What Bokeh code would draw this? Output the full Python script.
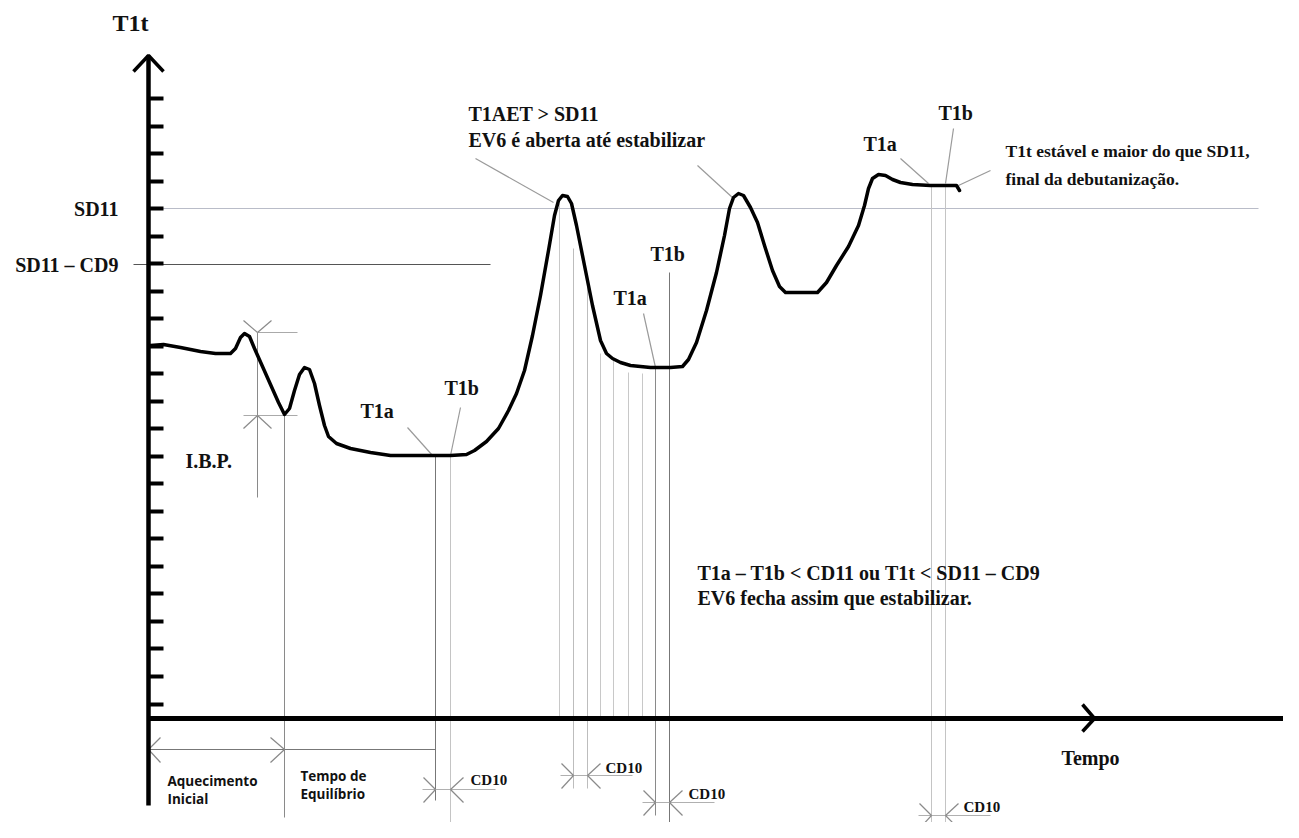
from bokeh.plotting import figure
from bokeh.models import Range1d, ColumnDataSource
from bokeh.core.properties import value
from bokeh.embed import file_html
from bokeh.resources import INLINE

# ---------------- data (time units / temperature units) ----------------
curve_time = [2, 15, 32, 52, 67, 82, 87, 92, 96, 101, 106, 114, 122, 130, 136, 141, 146, 151, 156, 161,
              166, 171, 176, 180, 188, 202, 222, 242, 272, 302, 318, 326, 338, 350, 360, 368, 376, 384,
              392, 400, 406, 410, 414, 419, 423, 428, 436, 444, 452, 458, 464, 472, 482, 502, 522, 534,
              540, 548, 558, 568, 576, 581, 585, 590, 595, 602, 609, 616, 624, 631, 637, 652, 669, 678,
              688, 700, 710, 716, 720, 724, 730, 737, 744, 752, 764, 782, 797, 808, 811]
curve_temp = [373, 374, 371, 367, 365, 365, 370, 381, 385, 382, 370, 352, 334, 316, 304, 310, 328, 344, 351, 349,
              335, 313, 293, 282, 275, 270, 266, 263, 263, 263, 264, 268, 277, 290, 308, 325, 348, 383,
              423, 468, 503, 518, 523, 522, 515, 493, 453, 413, 378, 365, 360, 356, 353, 351, 351, 352,
              359, 376, 408, 446, 483, 510, 521, 525, 523, 511, 496, 473, 448, 432, 426, 426, 426, 436,
              453, 472, 493, 513, 530, 540, 544, 543, 539, 536, 534, 533, 533, 533, 528]

tick_levels = [620, 592, 565, 537, 510, 482, 455, 427, 400, 372, 345, 317, 290, 262, 235, 207,
               180, 152, 125, 97, 70, 42, 14]
sd11_level = 510
sd11_cd9_level = 454
axis_time_end = 1142
axis_temp_top = 663
axis_temp_bottom = -87

# guide (thin vertical) lines: time, top, bottom, colour
guide_time = [109, 136, 287, 302, 411, 425, 439, 452, 465, 480, 494, 507, 521, 783, 797]
guide_top = [386, 303, 263, 263, 515, 470, 441, 365, 358, 346, 345, 351, 446, 533, 533]
guide_bottom = [221, -99, -82, -125, 0, -70, -70, 0, 0, 0, 0, -97, -125, -107, -112]
guide_color = ["#8a8a8a", "#8a8a8a", "#777777", "#c4c4c4", "#c8c8c8", "#bdbdbd", "#bdbdbd", "#c8c8c8",
               "#c8c8c8", "#c8c8c8", "#c8c8c8", "#8a8a8a", "#777777", "#c4c4c4", "#c4c4c4"]

# CD10 dimension markers: left time, right time, level
cd10_left = [287, 425, 507, 783]
cd10_right = [302, 439, 521, 797]
cd10_level = [-71, -57, -84, -97]

# leader lines
leader_x0 = [259, 312, 327, 549, 495, 752, 805, 842]
leader_y0 = [291, 311, 560, 553, 405, 560, 590, 548]
leader_x1 = [284, 302, 405, 585, 507, 780, 797, 810]
leader_y1 = [263, 263, 516, 520, 351, 535, 535, 533]

# IBP marker
ibp_time = 109
ibp_top = 386
ibp_bottom = 303
ibp_line_end = 149
ibp_low_start = 95

# heating / equilibrium dimension
heat_level = -31
heat_end = 136
equil_end = 287

# serif labels: text, x, y, size, align
lab_text = ["T1t", "SD11", "SD11 \u2013 CD9", "I.B.P.", "T1a", "T1b",
            "T1AET > SD11", "EV6 \u00e9 aberta at\u00e9 estabilizar", "T1a", "T1b", "T1a", "T1b",
            "T1a \u2013 T1b < CD11 ou T1t < SD11 \u2013 CD9", "EV6 fecha assim que estabilizar.", "Tempo"]
lab_x = [-18, -30, -30, 37, 212, 296, 320, 320, 465, 502, 715, 790, 549, 549, 942]
lab_y = [696, 510, 454, 258, 308, 331, 605, 579, 421, 465, 575, 606, 146, 121, -39]
lab_size = ["24px", "20px", "20px", "20px", "20px", "20px", "20px", "20px", "20px", "20px", "20px",
            "20px", "20px", "20px", "20px"]
lab_align = ["center", "right", "right", "left", "left", "left", "left", "left", "left", "left",
             "left", "left", "left", "left", "center"]

end_text = ["T1t est\u00e1vel e maior do que SD11,", "final da debutaniza\u00e7\u00e3o."]
end_x = [857, 857]
end_y = [568, 540]

sans_text = ["Aquecimento", "Inicial", "Tempo de", "Equil\u00edbrio"]
sans_x = [19, 19, 152, 152]
sans_y = [-62, -80, -57, -75]

cd10_lab_x = [322, 457, 540, 815]
cd10_lab_y = [-61, -49, -75, -88]

# ---------------- figure ----------------
p = figure(width=1283, height=822, output_backend="svg", toolbar_location=None,
           x_range=Range1d(-148, 1135), y_range=Range1d(-104, 718), min_border=0)
p.axis.visible = False
p.grid.visible = False
p.outline_line_color = None
p.background_fill_color = "white"
p.border_fill_color = "white"

# reference levels
p.segment(x0=[0], y0=[sd11_level], x1=[1110], y1=[sd11_level], line_color="#b9bcc8", line_width=1.2)
p.segment(x0=[-15], y0=[sd11_cd9_level], x1=[342], y1=[sd11_cd9_level], line_color="#555555", line_width=1.2)

# guide lines
p.segment(x0=guide_time, y0=guide_top, x1=guide_time, y1=guide_bottom, line_color=guide_color, line_width=1)

# IBP marker
p.segment(x0=[ibp_time, ibp_low_start], y0=[ibp_top, ibp_bottom], x1=[ibp_line_end, ibp_line_end],
          y1=[ibp_top, ibp_bottom], line_color="#aaaaaa", line_width=1)
p.segment(x0=[ibp_time - 14, ibp_time + 14, ibp_time - 14, ibp_time + 14],
          y0=[ibp_top + 12, ibp_top + 12, ibp_bottom - 13, ibp_bottom - 13],
          x1=[ibp_time] * 4, y1=[ibp_top, ibp_top, ibp_bottom, ibp_bottom],
          line_color="#8a8a8a", line_width=1.2)

# heating / equilibrium dimension line
p.segment(x0=[0], y0=[heat_level], x1=[equil_end], y1=[heat_level], line_color="#777777", line_width=1)
p.segment(x0=[12, 12, heat_end - 14, heat_end - 14], y0=[heat_level + 12, heat_level - 13, heat_level + 12, heat_level - 13],
          x1=[0, 0, heat_end, heat_end], y1=[heat_level] * 4, line_color="#888888", line_width=1.2)

# CD10 markers
for tl, tr, lv in zip(cd10_left, cd10_right, cd10_level):
    p.segment(x0=[tl - 13], y0=[lv], x1=[tr + 45], y1=[lv], line_color="#b0b0b0", line_width=1)
    p.segment(x0=[tl - 12, tl - 12, tr + 13, tr + 13], y0=[lv + 12, lv - 13, lv + 12, lv - 13],
              x1=[tl, tl, tr, tr], y1=[lv] * 4, line_color="#8a8a8a", line_width=1.2)

# leaders
p.segment(x0=leader_x0, y0=leader_y0, x1=leader_x1, y1=leader_y1, line_color="#9a9a9a", line_width=1.2)

# axes
p.segment(x0=[0], y0=[axis_temp_bottom], x1=[0], y1=[axis_temp_top], line_color="black", line_width=4.5)
p.segment(x0=[0], y0=[0], x1=[axis_time_end], y1=[0], line_color="black", line_width=5)
p.segment(x0=[0] * len(tick_levels), y0=tick_levels, x1=[15] * len(tick_levels), y1=tick_levels,
          line_color="black", line_width=4)
p.line(x=[-15, 0, 15], y=[axis_temp_top - 16, axis_temp_top, axis_temp_top - 16], line_color="black", line_width=3.5)
p.line(x=[934, 946, 934], y=[14, 0, -13], line_color="black", line_width=3.5)

# curve
p.line(x=curve_time, y=curve_temp, line_color="black", line_width=3.5, line_join="round", line_cap="round")

# labels
src = ColumnDataSource(dict(text=lab_text, x=lab_x, y=lab_y, size=lab_size, align=lab_align))
p.text(x="x", y="y", text="text", source=src, text_font=value("Liberation Serif"), text_font_style="bold",
       text_font_size="size", text_align="align", text_baseline="middle", text_color="#111111")
p.text(x=end_x, y=end_y, text=end_text, text_font=value("Liberation Serif"), text_font_style="bold",
       text_font_size="17.5px", text_align="left", text_baseline="middle", text_color="#111111")
p.text(x=sans_x, y=sans_y, text=sans_text, text_font=value("Open Sans"), text_font_style="bold",
       text_font_size="13.5px", text_align="left", text_baseline="middle", text_color="#111111")
p.text(x=cd10_lab_x, y=cd10_lab_y, text=["CD10"] * 4, text_font=value("Liberation Serif"), text_font_style="bold",
       text_font_size="15px", text_align="left", text_baseline="middle", text_color="#111111")

open("out.html", "w").write(file_html(p, INLINE))
